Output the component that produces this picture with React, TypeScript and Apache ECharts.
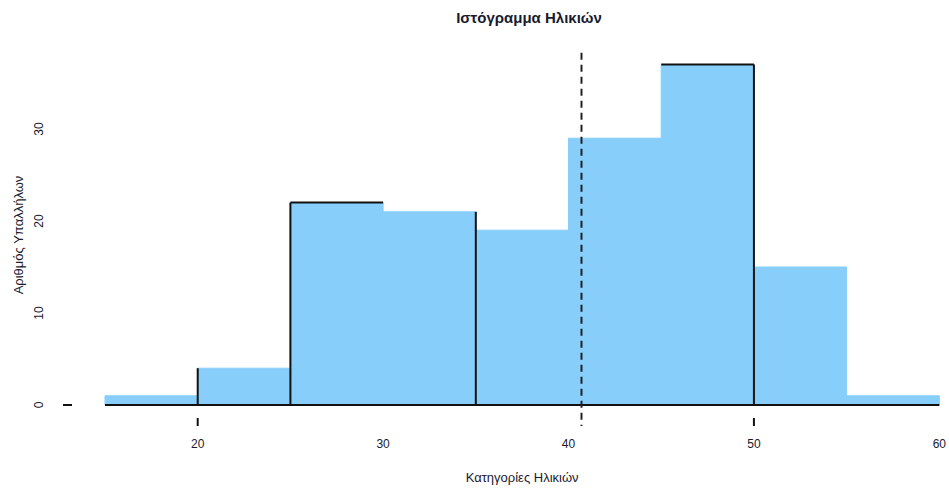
import React, { useEffect, useRef } from "react";
import * as echarts from "echarts";

// Histogram of employee ages: 5-year bins from 15 to 60
const binStarts = [15, 20, 25, 30, 35, 40, 45, 50, 55];
const binWidth = 5;
const counts = [1, 4, 22, 21, 19, 29, 37, 15, 1];
const meanAge = 40.7;
const xTickMarks = [20, 50];
const yTicks = [0, 10, 20, 30];

// Dark rules drawn on some bin edges
const outlinedEdges: { bin: number; side: "left" | "right" | "top" }[] = [
  { bin: 1, side: "left" },
  { bin: 2, side: "left" },
  { bin: 2, side: "top" },
  { bin: 3, side: "right" },
  { bin: 6, side: "top" },
  { bin: 6, side: "right" },
];

const FONT = "Liberation Sans, Arial, sans-serif";
const INK = "#1a1a2e";
const FILL = "#87CEFA";

export default function App() {
  const ref = useRef<HTMLDivElement>(null);

  useEffect(() => {
    if (!ref.current) return;
    const chart = echarts.init(ref.current, undefined, { renderer: "svg" });

    const barData = binStarts.map((s, i) => [s, s + binWidth, counts[i]]);
    const edgeData = outlinedEdges.map((e) => {
      const s = binStarts[e.bin];
      const h = counts[e.bin];
      if (e.side === "left") return [s, 0, s, h];
      if (e.side === "right") return [s + binWidth, 0, s + binWidth, h];
      return [s, h, s + binWidth, h];
    });
    const xMin = binStarts[0];
    const xMax = binStarts[binStarts.length - 1] + binWidth;

    chart.setOption({
      animation: false,
      title: {
        text: "Ιστόγραμμα Ηλικιών",
        left: 524,
        textAlign: "center",
        top: 5,
        textStyle: { fontFamily: FONT, fontSize: 15, fontWeight: "bold", color: INK },
      },
      grid: { left: 105, right: 6, top: 37, bottom: 78 },
      xAxis: {
        type: "value",
        min: xMin,
        max: xMax,
        interval: 5,
        axisLine: { show: false },
        axisTick: { show: false },
        splitLine: { show: false },
        axisLabel: {
          margin: 33,
          fontFamily: FONT,
          fontSize: 12,
          color: INK,
          formatter: (v: number) => (v % 10 === 0 ? String(v) : ""),
        },
        name: "Κατηγορίες Ηλικιών",
        nameLocation: "middle",
        nameGap: 66,
        nameTextStyle: { fontFamily: FONT, fontSize: 13, color: INK },
      },
      yAxis: {
        type: "value",
        min: 0,
        max: 40,
        interval: 10,
        axisLine: { show: false },
        axisTick: { show: false },
        splitLine: { show: false },
        axisLabel: {
          rotate: 90,
          margin: 60,
          fontFamily: FONT,
          fontSize: 12,
          color: INK,
          formatter: (v: number) => (yTicks.includes(v) ? String(v) : ""),
        },
      },
      graphic: [
        {
          type: "text",
          x: 18,
          y: 235,
          rotation: Math.PI / 2,
          style: {
            text: "Αριθμός Υπαλλήλων",
            fontFamily: FONT,
            fontSize: 13,
            fill: INK,
            align: "center",
            verticalAlign: "middle",
          },
        },
      ],
      series: [
        {
          type: "custom",
          z: 2,
          data: barData,
          renderItem: (_p: any, api: any) => {
            const tl = api.coord([api.value(0), api.value(2)]);
            const br = api.coord([api.value(1), 0]);
            return {
              type: "rect",
              shape: { x: tl[0], y: tl[1], width: br[0] - tl[0], height: br[1] - tl[1] },
              style: { fill: FILL, stroke: FILL, lineWidth: 1 },
            };
          },
        },
        {
          type: "custom",
          z: 3,
          data: edgeData,
          renderItem: (_p: any, api: any) => {
            const a = api.coord([api.value(0), api.value(1)]);
            const b = api.coord([api.value(2), api.value(3)]);
            return {
              type: "line",
              shape: { x1: a[0], y1: a[1], x2: b[0], y2: b[1] },
              style: { stroke: "#111", lineWidth: 2 },
            };
          },
        },
        {
          // baseline, x tick marks, y tick mark and mean line
          type: "custom",
          z: 4,
          clip: false,
          data: [[0]],
          renderItem: (_p: any, api: any) => {
            const left = api.coord([xMin, 0]);
            const right = api.coord([xMax, 0]);
            const children: any[] = [
              {
                type: "line",
                shape: { x1: left[0], y1: left[1], x2: right[0], y2: right[1] },
                style: { stroke: "#111", lineWidth: 2 },
              },
              {
                type: "line",
                shape: { x1: left[0] - 42, y1: left[1], x2: left[0] - 33, y2: left[1] },
                style: { stroke: "#111", lineWidth: 2 },
              },
            ];
            xTickMarks.forEach((t) => {
              const p = api.coord([t, 0]);
              children.push({
                type: "line",
                shape: { x1: p[0], y1: p[1] + 13, x2: p[0], y2: p[1] + 21 },
                style: { stroke: "#111", lineWidth: 2 },
              });
            });
            const mTop = api.coord([meanAge, 38.3]);
            children.push({
              type: "line",
              shape: { x1: mTop[0], y1: mTop[1], x2: mTop[0], y2: left[1] + 21 },
              style: { stroke: "#222", lineWidth: 2, lineDash: [7, 5] },
            });
            return { type: "group", children };
          },
        },
      ],
    });

    return () => chart.dispose();
  }, []);

  return (
    <div
      ref={ref}
      style={{ position: "absolute", left: 0, top: 0, width: 949, height: 489 }}
    />
  );
}
